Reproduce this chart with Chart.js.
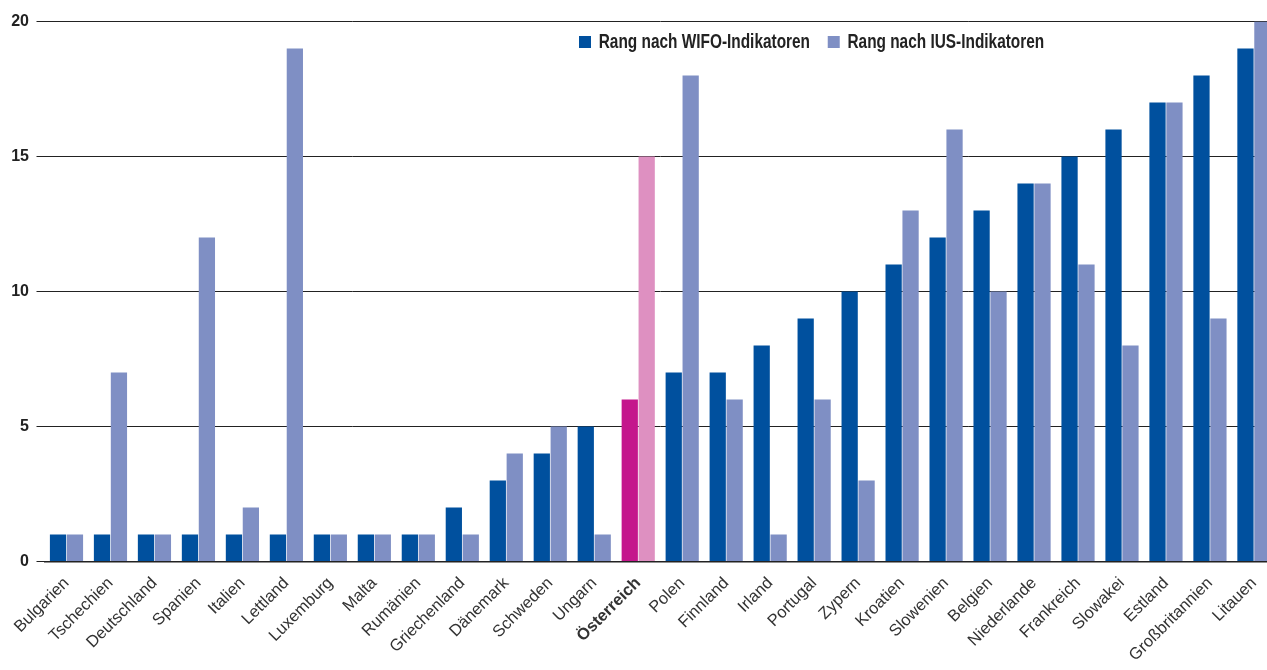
<!DOCTYPE html>
<html>
<head>
<meta charset="utf-8">
<script src="https://cdn.jsdelivr.net/npm/chart.js@4/dist/chart.umd.min.js"></script>
<style>
  html, body { margin: 0; padding: 0; background: #fff; overflow: hidden; }
  #wrap { width: 1280px; height: 670px; position: relative; }
  canvas { display: block; }
</style>
</head>
<body>
<div id="wrap"><canvas id="c" width="1280" height="670"></canvas></div>
<script>
const categories = ["Bulgarien","Tschechien","Deutschland","Spanien","Italien","Lettland","Luxemburg","Malta","Rumänien","Griechenland","Dänemark","Schweden","Ungarn","Österreich","Polen","Finnland","Irland","Portugal","Zypern","Kroatien","Slowenien","Belgien","Niederlande","Frankreich","Slowakei","Estland","Großbritannien","Litauen"];
const wifoRank = [1,1,1,1,1,1,1,1,1,2,3,4,5,6,7,7,8,9,10,11,12,13,14,15,16,17,18,19];
const iusRank  = [1,7,1,12,2,19,1,1,1,1,4,5,1,15,18,6,1,6,3,13,16,10,14,11,8,17,9,20];
const seriesNames = ["Rang nach WIFO-Indikatoren","Rang nach IUS-Indikatoren"];
const yTicks = [0,5,10,15,20];
const highlight = "Österreich";

const WIDE = "'Liberation Sans',Arial,sans-serif";
const wifoColor = "#00509E", iusColor = "#7F8FC4";
const wifoHi = "#C4168C", iusHi = "#DE90C1";

const LEG_X0 = 579, LEG_SCALE = 0.77, LEG_PAD = 23;

const legendPos = {
  id: 'legendPos',
  beforeLayout(chart) {
    const lg = chart.legend;
    if (!lg || lg._patched) return;
    lg._patched = true;
    const origFit = lg.fit;
    lg.fit = function () { origFit.call(this); this._realH = this.height; this.height = 0; };
    const origDraw = lg.draw;
    lg.draw = function () {
      const ctx = this.ctx;
      ctx.save();
      ctx.translate(LEG_X0, 0);
      ctx.scale(LEG_SCALE, 1);
      ctx.translate(-LEG_X0, 0);
      origDraw.call(this);
      ctx.restore();
    };
  },
  afterLayout(chart) {
    const lg = chart.legend;
    if (!lg) return;
    const w = lg.width, h = lg._realH || 60;
    lg.left = LEG_X0 - LEG_PAD; lg.right = lg.left + w;
    lg.top = 9; lg.bottom = lg.top + h; lg.height = h;
  }
};

new Chart(document.getElementById('c'), {
  type: 'bar',
  data: {
    labels: categories,
    datasets: [
      { label: seriesNames[0], data: wifoRank,
        backgroundColor: categories.map(c => c === highlight ? wifoHi : wifoColor),
        categoryPercentage: 0.77, barPercentage: 0.96 },
      { label: seriesNames[1], data: iusRank,
        backgroundColor: categories.map(c => c === highlight ? iusHi : iusColor),
        categoryPercentage: 0.77, barPercentage: 0.96 }
    ]
  },
  options: {
    responsive: false,
    animation: false,
    devicePixelRatio: 1,
    layout: { padding: { top: 21.5, right: 3.5, left: 0, bottom: 0 } },
    plugins: {
      tooltip: { enabled: false },
      legend: {
        position: 'top',
        align: 'start',
        labels: {
          boxWidth: 12 / LEG_SCALE, boxHeight: 12, padding: LEG_PAD,
          color: '#222',
          font: { family: WIDE, size: 20, weight: 'bold' },
          generateLabels(chart) {
            return chart.data.datasets.map((ds, i) => ({
              text: ds.label,
              fillStyle: i === 0 ? wifoColor : iusColor,
              strokeStyle: i === 0 ? wifoColor : iusColor,
              lineWidth: 0,
              hidden: false,
              datasetIndex: i,
              fontColor: '#222'
            }));
          }
        }
      }
    },
    scales: {
      x: {
        offset: true,
        grid: { display: false, drawTicks: false },
        border: { display: true, color: '#222', width: 1.5 },
        ticks: {
          autoSkip: false, minRotation: 45, maxRotation: 45, padding: 12,
          color: '#333',
          font: ctx => ({ family: WIDE, size: 16.5, weight: (categories[ctx.index] === highlight ? 'bold' : 'normal') })
        },
        afterFit(s) { s.height = 108.5; }
      },
      y: {
        min: 0, max: 20,
        afterBuildTicks(s) { s.ticks = yTicks.map(v => ({ value: v })); },
        grid: { color: '#222', lineWidth: 1, drawTicks: true, tickLength: 8 },
        border: { display: false },
        ticks: {
          padding: 7.5, color: '#222',
          font: { family: WIDE, size: 16, weight: 'bold' }
        },
        afterFit(s) { s.width = 44.5; }
      }
    }
  },
  plugins: [legendPos]
});
</script>
</body>
</html>
